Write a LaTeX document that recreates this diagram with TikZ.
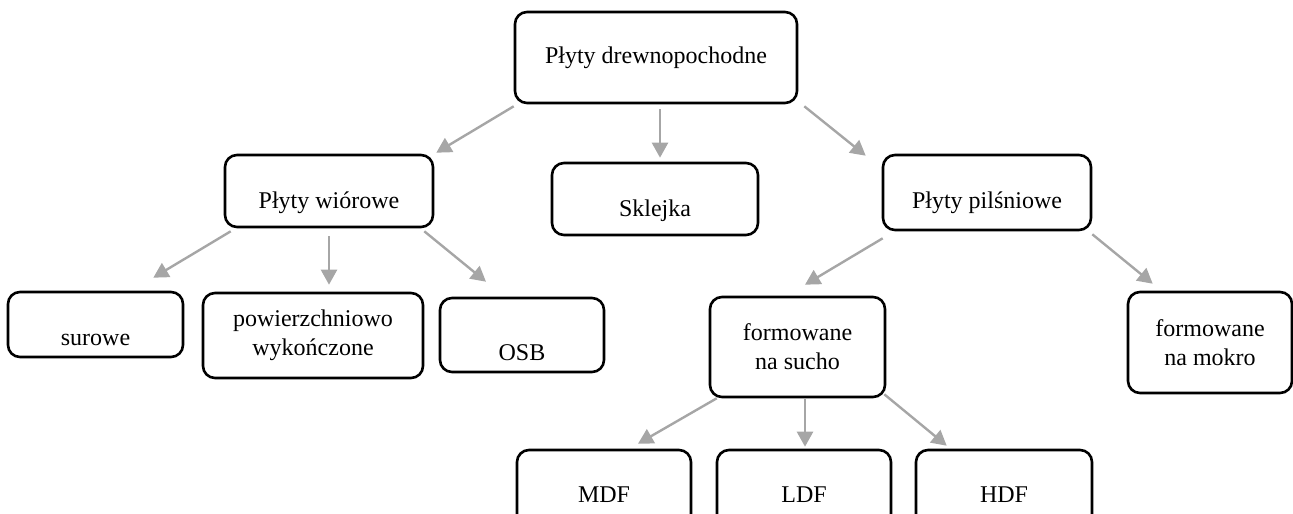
\documentclass[tikz,border=0pt]{standalone}
\usepackage{fontspec}
\setmainfont{Liberation Serif}
\usetikzlibrary{arrows.meta, calc}
\definecolor{arrgray}{RGB}{166,166,166}

\begin{document}
\begin{tikzpicture}[x=0.5pt, y=-0.5pt,
    box/.style={draw, line width=1.3pt, rounded corners=6pt, align=center, inner sep=0pt,
                font=\fontsize{12}{14.5}\selectfont},
    drop/.style={text depth=2.5pt, text height=#1},
    arr/.style={draw=arrgray, line width=1.2pt, -{Triangle[length=7.5pt, width=8pt]}}]
                \useasboundingbox (0,0) rectangle (1293,513);
                \clip (0,0) rectangle (1293,513);

                % top level
                \node[box, minimum width=141pt, minimum height=45.5pt] (top) at (656,57.5) {Płyty drewnopochodne};

                % second level
                \node[box, drop=19.5pt, minimum width=104pt, minimum height=36pt] (wior) at (329,191) {Płyty wiórowe};
                \node[box, drop=19.5pt, minimum width=103pt, minimum height=36pt] (skl) at (655,199) {Sklejka};
                \node[box, drop=18pt, minimum width=104pt, minimum height=37.5pt] (pils) at (987,192.5) {Płyty pilśniowe};

                % third level
                \node[box, drop=23pt, minimum width=87.5pt, minimum height=32.5pt] (sur) at (95.5,324.5) {surowe};
                \node[box, minimum width=110pt, minimum height=42.5pt] (pow) at (313,335.5) {powierzchniowo\\wykończone};
                \node[box, drop=27.5pt, minimum width=82pt, minimum height=37pt] (osb) at (522,335) {OSB};
                \node[box, minimum width=87.5pt, minimum height=50pt] (such) at (797.5,347) {formowane\\na sucho};
                \node[box, minimum width=82pt, minimum height=50.5pt] (mok) at (1210,342.5) {formowane\\na mokro};

                % bottom level
                \node[box, minimum width=87pt, minimum height=45pt] (mdf) at (604,495) {MDF};
                \node[box, minimum width=87pt, minimum height=45pt] (ldf) at (804,495) {LDF};
                \node[box, minimum width=88pt, minimum height=45pt] (hdf) at (1004,495) {HDF};

                % arrows
                \draw[arr] ($(top.south west)+(0,2)$) -- ($(wior.north east)+(2,-1)$);
                \draw[arr] ($(top.south)+(4,5)$) -- ($(skl.north)+(5,-4)$);
                \draw[arr] ($(top.south east)+(6,2)$) -- ($(pils.north west)+(-16,2)$);

                \draw[arr] ($(wior.south west)+(7,3)$) -- ($(sur.north east)+(-31,-13)$);
                \draw[arr] ($(wior.south)+(0,8)$) -- ($(pow.north)+(16,-7)$);
                \draw[arr] ($(wior.south east)+(-10,3)$) -- ($(osb.north)+(-36,-15)$);

                \draw[arr] ($(pils.south west)+(1,7)$) -- ($(such.north)+(7.5,-11)$);
                \draw[arr] ($(pils.south east)+(0,3)$) -- ($(mok.north west)+(26,-7)$);

                \draw[arr] ($(such.south west)+(8,0)$) -- ($(mdf.north)+(34,-5)$);
                \draw[arr] ($(such.south)+(7.5,0)$) -- ($(ldf.north)+(1,-2)$);
                \draw[arr] ($(such.south east)+(-2,-4)$) -- ($(hdf.north west)+(32,-3)$);
\end{tikzpicture}
\end{document}
